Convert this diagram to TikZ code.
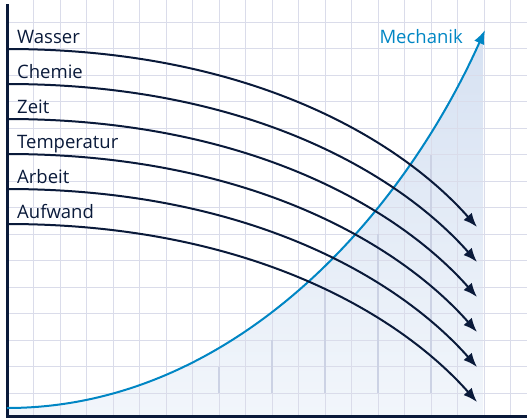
\documentclass[tikz,border=0pt]{standalone}
\usepackage{fontspec}
\setmainfont{Open Sans}
\usetikzlibrary{arrows.meta}
\definecolor{navy}{RGB}{10,26,58}
\definecolor{mblue}{RGB}{0,134,196}
\definecolor{gridc}{RGB}{218,220,234}
\definecolor{barc}{RGB}{204,210,228}
\definecolor{filltop}{RGB}{214,225,242}
\definecolor{fillbot}{RGB}{242,246,251}

\begin{document}
\begin{tikzpicture}[x=1pt,y=-1pt,
  font=\fontsize{18.5}{20}\selectfont,
  gitter/.style={gridc,line width=1pt},
  balken/.style={barc,line width=1.6pt},
  achse/.style={navy,line width=3pt},
  pfeil/.style={navy,line width=2pt,-{Latex[length=14pt,width=11pt]}},
  mech/.style={mblue,line width=2pt,-{Latex[length=14pt,width=11pt]}},
  marke/.style={navy,anchor=base west,inner sep=0pt}]
\useasboundingbox (0,0) rectangle (527,418);
% Flaeche unter der Kurve
\begin{scope}
  \clip (7,42) rectangle (483,416);
  \shade[top color=filltop,bottom color=fillbot] (7,416) -- (7,408)
    .. controls +(223,0) and +(-85,190) .. (485,30) -- (485,416) -- cycle;
\end{scope}
% Gitter
\foreach \x in {0,...,18} \draw[gitter] (33.5+26.5*\x,0) -- (33.5+26.5*\x,416);
\foreach \y in {0,...,14} \draw[gitter] (7,393-26.5*\y) -- (527,393-26.5*\y);
\foreach \x/\h in {219/366.5,272/340,325/287,378/234,431/154.5}
  \draw[balken] (\x,\h) -- (\x,393);
\draw[achse] (7,4) -- (7,416) -- (527,416);
% Mechanik
\coordinate (m0) at (7,408);
\coordinate (m1) at (485,30);
\draw[mech] (m0) .. controls +(223,0) and +(-85,190) .. (m1);
\node[mblue,anchor=base east,inner sep=0pt] (mech) at (463,43) {Mechanik};
% Pfeile
\foreach \t [count=\i] in {Wasser,Chemie,Zeit,Temperatur,Arbeit,Aufwand}{
  \pgfmathsetmacro\y{49+35*(\i-1)}
  \coordinate (s\i) at (7,\y);
  \coordinate (e\i) at (477,\y+178);
  \node[marke] (l\i) at (17,\y-6) {\t};
  \draw[pfeil] (s\i) .. controls +(243,0) and +(-77,-87) .. (e\i);
}
\end{tikzpicture}
\end{document}
